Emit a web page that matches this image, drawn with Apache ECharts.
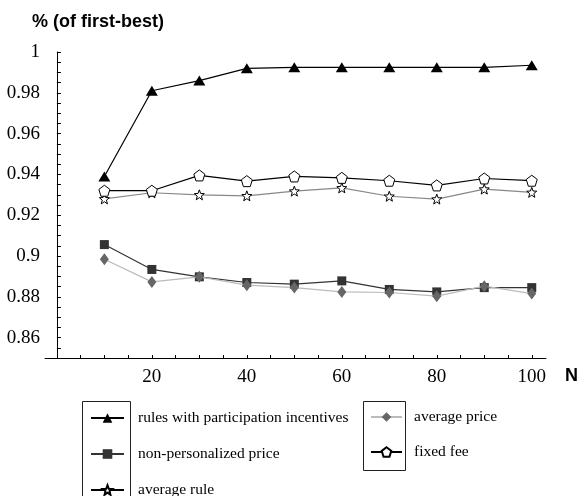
<!DOCTYPE html>
<html>
<head>
<meta charset="utf-8">
<script src="https://cdn.jsdelivr.net/npm/echarts@6/dist/echarts.min.js"></script>
<style>html,body{margin:0;padding:0;background:#fff}#c{width:587px;height:496px}</style>
</head>
<body>
<div id="c"></div>
<script>
// ---- data ----
var nValues = [10, 20, 30, 40, 50, 60, 70, 80, 90, 100];
var participation = [0.939, 0.981, 0.986, 0.992, 0.9925, 0.9925, 0.9925, 0.9925, 0.9925, 0.9935];
var fixedFee      = [0.932, 0.932, 0.9395, 0.9367, 0.939, 0.9383, 0.9369, 0.9346, 0.938, 0.9369];
var averageRule   = [0.928, 0.931, 0.930, 0.9295, 0.9318, 0.9334, 0.9293, 0.9279, 0.9328, 0.9312];
var nonPersonal   = [0.9056, 0.8934, 0.8898, 0.887, 0.8862, 0.8878, 0.8836, 0.8824, 0.8845, 0.8845];
var averagePrice  = [0.8984, 0.8873, 0.8898, 0.8857, 0.8845, 0.8824, 0.8821, 0.8803, 0.8852, 0.8816];
var xTickLabels = [20, 40, 60, 80, 100];
var xTicks = [5, 10, 15, 20, 25, 30, 35, 40, 45, 50, 55, 60, 65, 70, 75, 80, 85, 90, 95, 100];
var yTickLabels = [0.86, 0.88, 0.9, 0.92, 0.94, 0.96, 0.98, 1];
var yTicks = [0.855, 0.86, 0.865, 0.87, 0.875, 0.88, 0.885, 0.89, 0.895, 0.9, 0.905, 0.91, 0.915, 0.92, 0.925, 0.93, 0.935, 0.94, 0.945, 0.95, 0.955, 0.96, 0.965, 0.97, 0.975, 0.98, 0.985, 0.99, 0.995, 1];
var names = ['rules with participation incentives', 'non-personalized price', 'average rule', 'average price', 'fixed fee'];

function pairs(vals) { return nValues.map(function (n, i) { return [n, vals[i]]; }); }

var STAR = 'path://M10,0L12.47,6.6L19.51,6.91L13.99,11.3L15.88,18.09L10,14.2L4.12,18.09L6.01,11.3L0.49,6.91L7.53,6.6Z';
var PENT = 'path://M10,0L19.51,6.91L15.88,18.09L4.12,18.09L0.49,6.91Z';
var serif = 'Liberation Serif';

var chart = echarts.init(document.getElementById('c'), null, {renderer: 'canvas'});
chart.setOption({
  animation: false,
  backgroundColor: '#fff',
  title: [
    {text: '% (of first-best)', left: 32, top: 13, padding: 0, textStyle: {fontFamily: 'Liberation Sans', fontWeight: 'bold', fontSize: 18, color: '#000'}},
    {text: 'N', left: 565, top: 367, padding: 0, textStyle: {fontFamily: 'Liberation Sans', fontWeight: 'bold', fontSize: 18, color: '#000'}}
  ],
  grid: {left: 45, top: 52, width: 501, height: 306, containLabel: false},
  xAxis: {
    type: 'value', min: -2.5, max: 103,
    axisLine: {show: true, lineStyle: {color: '#000', width: 1}},
    axisTick: {show: true, inside: true, length: 3, customValues: xTicks, lineStyle: {color: '#000'}},
    axisLabel: {customValues: xTickLabels, margin: 10, fontFamily: serif, fontSize: 19, color: '#000'},
    splitLine: {show: false}
  },
  yAxis: {
    type: 'value', min: 0.85, max: 1.0,
    axisLine: {show: true, onZero: true, lineStyle: {color: '#000', width: 1}},
    axisTick: {show: true, inside: true, length: 4, customValues: yTicks, lineStyle: {color: '#000'}},
    axisLabel: {customValues: yTickLabels, margin: 5, fontFamily: serif, fontSize: 19, color: '#000',
      formatter: function (v) { return String(parseFloat(Number(v).toFixed(3))); }},
    splitLine: {show: false}
  },
  legend: [
    {data: [names[0], names[1], {name: names[2], lineStyle: {color: '#000'}}], orient: 'vertical', left: 90, top: 410, height: 200, padding: 0, itemWidth: 33, itemHeight: 12, itemGap: 20,
      textStyle: {fontFamily: serif, fontSize: 15.5, lineHeight: 12, color: '#000', padding: [0, 0, 0, 9]}},
    {data: [names[3], names[4]], orient: 'vertical', left: 370, top: 409, height: 200, padding: 0, itemWidth: 31, itemHeight: 12, itemGap: 19,
      textStyle: {fontFamily: serif, fontSize: 15.5, lineHeight: 12, color: '#000', padding: [0, 0, 0, 7]}}
  ],
  graphic: [
    {type: 'rect', shape: {x: 82.5, y: 401.5, width: 48, height: 120}, style: {fill: 'none', stroke: '#222', lineWidth: 1}, silent: true},
    {type: 'rect', shape: {x: 363.5, y: 401.5, width: 42, height: 69}, style: {fill: 'none', stroke: '#222', lineWidth: 1}, silent: true}
  ],
  series: [
    {name: names[0], type: 'line', data: pairs(participation), symbol: 'triangle', symbolSize: [12, 10],
      itemStyle: {color: '#000'}, lineStyle: {color: '#000', width: 1.2}, z: 5},
    {name: names[1], type: 'line', data: pairs(nonPersonal), symbol: 'rect', symbolSize: 9,
      itemStyle: {color: '#333'}, lineStyle: {color: '#333', width: 1.2}, z: 3},
    {name: names[2], type: 'line', data: pairs(averageRule), symbol: STAR, symbolSize: 10,
      itemStyle: {color: '#fff', borderColor: '#000', borderWidth: 1}, lineStyle: {color: '#888', width: 1.2}, z: 3},
    {name: names[3], type: 'line', data: pairs(averagePrice), symbol: 'diamond', symbolSize: [9, 12],
      itemStyle: {color: '#666'}, lineStyle: {color: '#bbb', width: 1.2}, z: 4},
    {name: names[4], type: 'line', data: pairs(fixedFee), symbol: PENT, symbolSize: 11,
      itemStyle: {color: '#fff', borderColor: '#000', borderWidth: 1}, lineStyle: {color: '#000', width: 1.2}, z: 4}
  ]
});
</script>
</body>
</html>
